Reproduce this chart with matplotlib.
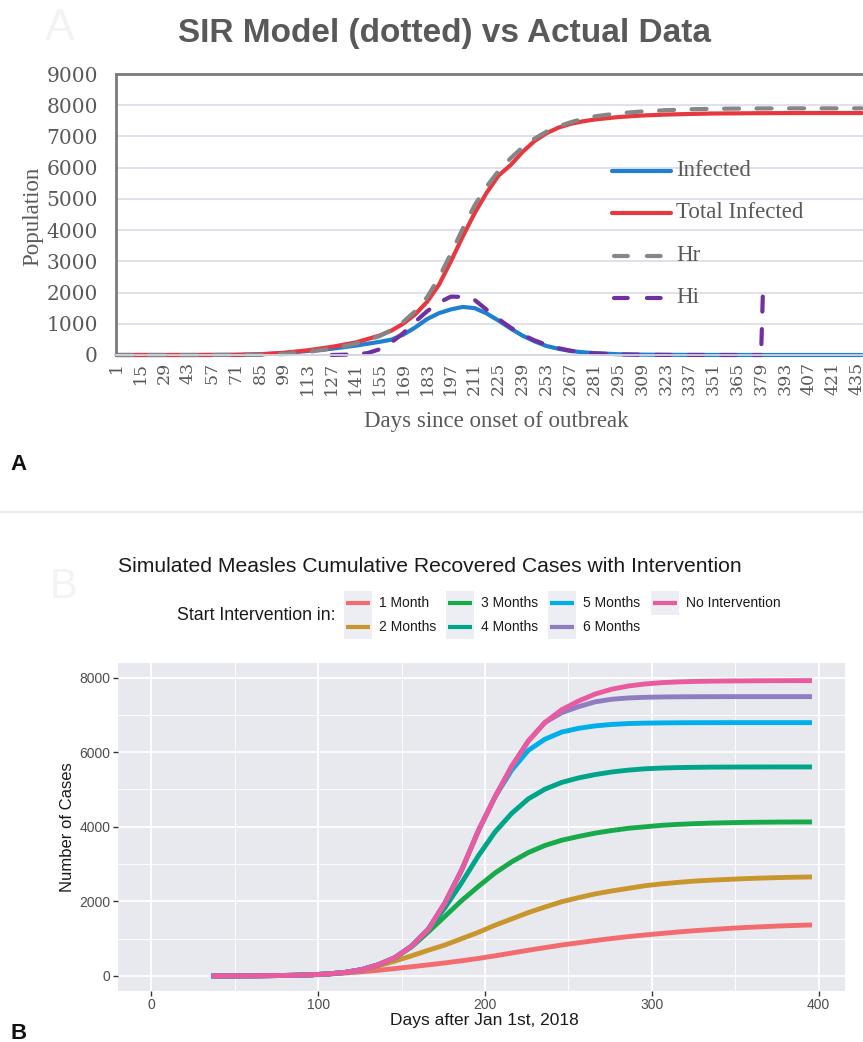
import matplotlib
matplotlib.use("Agg")
import matplotlib.pyplot as plt
from matplotlib.lines import Line2D
from matplotlib.patches import Rectangle

W, H = 863, 1042

# ---------------- Panel A data ----------------
a_days = [1, 15, 29, 43, 57, 71, 85, 99, 113, 127, 141, 155,
          162, 169, 176, 183, 190, 197, 204, 211, 218, 225, 232, 239, 246, 253, 260, 267, 274, 281,
          295, 309, 323, 337, 351, 365, 379, 393, 407, 421, 438]
a_infected = [0, 0, 0, 0, 2, 5, 20, 60, 130, 200, 300, 420,
              490, 650, 880, 1150, 1340, 1460, 1540, 1500, 1330, 1100, 850, 620, 440, 290, 200, 130, 90, 60,
              25, 12, 6, 3, 2, 1, 0, 0, 0, 0, 0]
a_total = [0, 0, 0, 0, 2, 5, 25, 70, 150, 260, 400, 620,
           780, 1000, 1300, 1700, 2250, 3000, 3800, 4550, 5200, 5750, 6080, 6500, 6850, 7100, 7280, 7400, 7480, 7540,
           7620, 7670, 7700, 7720, 7735, 7740, 7745, 7748, 7750, 7750, 7750]
a_hr = [0, 0, 0, 0, 0, 0, 5, 30, 100, 200, 360, 600,
        800, 1060, 1400, 1850, 2480, 3250, 4050, 4800, 5400, 5900, 6300, 6650, 6930, 7150, 7320, 7450, 7560, 7640,
        7740, 7800, 7840, 7870, 7885, 7893, 7897, 7899, 7900, 7900, 7900]
hi_days = [127, 141, 148, 155, 162, 169, 176, 183, 190, 197, 204, 211, 218, 225, 232, 239,
           246, 253, 260, 267, 274, 281, 295, 309, 323, 337, 351, 365, 379, 380]
hi_vals = [0, 20, 60, 180, 400, 700, 1060, 1400, 1680, 1870, 1860, 1760, 1450, 1150, 880, 650,
           470, 330, 220, 140, 90, 55, 20, 8, 3, 1, 0, 0, 0, 1870]
a_xticks = [1, 15, 29, 43, 57, 71, 85, 99, 113, 127, 141, 155, 169, 183, 197, 211, 225, 239,
            253, 267, 281, 295, 309, 323, 337, 351, 365, 379, 393, 407, 421, 435]
a_yticks = [0, 1000, 2000, 3000, 4000, 5000, 6000, 7000, 8000, 9000]
a_labels = ["Infected", "Total Infected", "Hr", "Hi"]

# ---------------- Panel B data ----------------
b_days = [36, 46, 56, 66, 76, 86, 96, 106, 116, 126, 136, 146, 156, 166, 176, 186, 196, 206, 216,
          226, 236, 246, 256, 266, 276, 286, 296, 306, 316, 326, 336, 346, 356, 366, 376, 386, 396]
b_m1 = [0, 1, 3, 6, 11, 19, 32, 50, 78, 112, 152, 198, 248, 298, 350, 408, 470, 540, 615,
        690, 760, 830, 890, 950, 1005, 1055, 1100, 1140, 1180, 1215, 1245, 1275, 1300, 1320, 1340, 1355, 1368]
b_m2 = [0, 1, 3, 6, 11, 19, 32, 55, 92, 160, 270, 400, 540, 690, 830, 1000, 1170, 1360, 1530,
        1700, 1850, 1990, 2100, 2200, 2280, 2350, 2420, 2470, 2510, 2545, 2570, 2590, 2610, 2625, 2638, 2648, 2655]
b_m3 = [0, 1, 3, 6, 11, 19, 32, 55, 95, 170, 300, 490, 780, 1180, 1600, 2020, 2400, 2760, 3060,
        3310, 3500, 3640, 3740, 3830, 3900, 3960, 4000, 4040, 4065, 4085, 4100, 4110, 4118, 4123, 4127, 4129, 4130]
b_m4 = [0, 1, 3, 6, 11, 19, 32, 55, 95, 170, 300, 490, 800, 1250, 1830, 2500, 3220, 3860, 4360,
        4750, 5010, 5190, 5310, 5400, 5470, 5520, 5555, 5575, 5588, 5595, 5600, 5602, 5603, 5604, 5605, 5605, 5605]
b_m5 = [0, 1, 3, 6, 11, 19, 32, 55, 95, 170, 300, 490, 800, 1250, 1960, 2840, 3890, 4800, 5520,
        6050, 6350, 6540, 6640, 6705, 6745, 6768, 6780, 6786, 6789, 6791, 6792, 6793, 6793, 6793, 6793, 6793, 6793]
b_m6 = [0, 1, 3, 6, 11, 19, 32, 55, 95, 170, 300, 490, 800, 1250, 1960, 2840, 3890, 4800, 5620,
        6300, 6800, 7060, 7220, 7350, 7420, 7455, 7472, 7481, 7486, 7488, 7489, 7490, 7490, 7490, 7490, 7490, 7490]
b_noi = [0, 1, 3, 6, 11, 19, 32, 55, 95, 170, 300, 490, 800, 1250, 1960, 2840, 3890, 4800, 5620,
         6300, 6800, 7140, 7370, 7560, 7690, 7775, 7830, 7865, 7885, 7898, 7905, 7910, 7913, 7916, 7918, 7919, 7920]
b_labels = ["1 Month", "2 Months", "3 Months", "4 Months", "5 Months", "6 Months", "No Intervention"]
b_series = [b_m1, b_m2, b_m3, b_m4, b_m5, b_m6, b_noi]
b_colors = ["#F26B6F", "#C9962E", "#18A94B", "#00A489", "#00AEEA", "#8F7DC2", "#E95B9E"]
b_xticks = [0, 100, 200, 300, 400]
b_xminor = [50, 150, 250, 350]
b_yticks = [0, 2000, 4000, 6000, 8000]
b_yminor = [1000, 3000, 5000, 7000]


def fx(x):
    return x / W


def fy(y):
    return 1 - y / H


fig = plt.figure(figsize=(W / 100, H / 100), dpi=100)
fig.patch.set_facecolor("white")

SERIF_NUM = ["DejaVu Serif"]
SERIF_TXT = ["Liberation Serif", "DejaVu Serif"]
SANS = ["Liberation Sans", "DejaVu Sans"]
GRAY_TXT = "#595959"

# ================= Panel A =================
axA = fig.add_axes([fx(116), fy(355), (W - 116) / W, 281 / H])
axA.set_xlim(0.5, 438.8)
axA.set_ylim(0, 9000)
axA.set_yticks(a_yticks)
axA.set_xticks(a_xticks)
axA.set_xticklabels([str(t) for t in a_xticks], rotation=90, family=SERIF_NUM,
                    fontsize=12.5, color=GRAY_TXT)
axA.set_yticklabels([str(t) for t in a_yticks], family=SERIF_NUM, fontsize=14.5, color=GRAY_TXT)
axA.tick_params(axis="both", length=0)
axA.tick_params(axis="x", pad=5)
axA.tick_params(axis="y", pad=13)
axA.yaxis.grid(True, color="#d9dde6", lw=1.2)
axA.set_axisbelow(True)
axA.spines["right"].set_visible(False)
axA.spines["left"].set_color("#7a7a7a")
axA.spines["left"].set_linewidth(2)
axA.spines["top"].set_color("#7a7a7a")
axA.spines["top"].set_linewidth(2)
axA.spines["bottom"].set_color("#d0d6e2")
axA.spines["bottom"].set_linewidth(1.3)

c_inf, c_tot, c_hr, c_hi = "#1F80D2", "#E8383F", "#868686", "#7030A0"
LW_A = 3.0
DASH = (3.6, 4.2)
axA.plot(a_days, a_infected, color=c_inf, lw=LW_A, solid_joinstyle="round",
         solid_capstyle="round", clip_on=False)
axA.plot(a_days, a_total, color=c_tot, lw=LW_A, solid_joinstyle="round",
         solid_capstyle="round", clip_on=False)
axA.plot(a_days, a_hr, color=c_hr, lw=LW_A, dashes=DASH, dash_capstyle="round",
         dash_joinstyle="round", clip_on=False)
# Hi series: main body, then its final jump (drawn top-down so the dash phase matches)
axA.plot(hi_days[:-1], hi_vals[:-1], color=c_hi, lw=LW_A, dashes=DASH, dash_capstyle="round",
         dash_joinstyle="round", clip_on=False)
axA.plot(hi_days[-1:-3:-1], hi_vals[-1:-3:-1], color=c_hi, lw=LW_A, dashes=DASH,
         dash_capstyle="round", clip_on=False)

# legend A (manual)
leg_y = [171, 213, 256, 298]
leg_c = [c_inf, c_tot, c_hr, c_hi]
for i, (lab, col, yy) in enumerate(zip(a_labels, leg_c, leg_y)):
    if i < 2:
        ln = Line2D([fx(612), fx(671)], [fy(yy), fy(yy)], transform=fig.transFigure,
                    color=col, lw=LW_A, solid_capstyle="round")
    else:
        ln = Line2D([fx(614), fx(661)], [fy(yy), fy(yy)], transform=fig.transFigure,
                    color=col, lw=LW_A, dashes=(3.3, 4.6), dash_capstyle="round")
    fig.add_artist(ln)
    fig.text(fx(676), fy(yy), lab, family=SERIF_TXT, fontsize=16.5, color=GRAY_TXT,
             ha="left", va="center")

fig.text(fx(444.5), fy(42), "SIR Model (dotted) vs Actual Data", family=SANS,
         fontweight="bold", fontsize=24, color=GRAY_TXT, ha="center", va="baseline")
fig.text(fx(33), fy(216), "Population", family=SERIF_TXT, fontsize=16.5, color=GRAY_TXT,
         rotation=90, ha="center", va="center")
fig.text(fx(496), fy(422), "Days since onset of outbreak", family=SERIF_TXT, fontsize=16.5,
         color=GRAY_TXT, ha="center", va="center")
# faint ghost panel letters
fig.text(fx(45), fy(40), "A", family=SANS, fontsize=32, color="#f3f3f3", ha="left", va="baseline")
fig.text(fx(50), fy(598), "B", family=SANS, fontsize=30, color="#f3f3f3", ha="left", va="baseline")
# panel letters
fig.text(fx(10), fy(470), "A", family=SANS, fontweight="bold", fontsize=16, color="#111111",
         ha="left", va="baseline")
fig.text(fx(10), fy(1039), "B", family=SANS, fontweight="bold", fontsize=16, color="#111111",
         ha="left", va="baseline")
# separator line
fig.add_artist(Line2D([0, 1], [fy(512), fy(512)], transform=fig.transFigure, color="#e6e6e6", lw=1.2))

# ================= Panel B =================
axB = fig.add_axes([fx(118.3), fy(990.7), 726.7 / W, 328 / H])
axB.set_facecolor("#E7E9EF")
axB.set_xlim(-19.8, 415.8)
axB.set_ylim(-395, 8400)
axB.set_xticks(b_xticks)
axB.set_xticks(b_xminor, minor=True)
axB.set_yticks(b_yticks)
axB.set_yticks(b_yminor, minor=True)
axB.set_xticklabels([str(t) for t in b_xticks], family=SANS, fontsize=10, color="#4D4D4D")
axB.set_yticklabels([str(t) for t in b_yticks], family=SANS, fontsize=10, color="#4D4D4D")
axB.tick_params(axis="both", which="major", length=3.5, width=1, color="#333333", pad=2)
axB.tick_params(axis="both", which="minor", length=0)
axB.grid(True, which="major", color="white", lw=1.3)
axB.grid(True, which="minor", color="white", lw=0.65)
axB.set_axisbelow(True)
for s in axB.spines.values():
    s.set_visible(False)

for vals, col in zip(b_series, b_colors):
    axB.plot(b_days, vals, color=col, lw=3.5, solid_capstyle="butt", solid_joinstyle="round")

fig.text(fx(118), fy(566), "Simulated Measles Cumulative Recovered Cases with Intervention",
         family=SANS, fontsize=15.2, color="#1a1a1a", ha="left", va="center")
fig.text(fx(484), fy(1021), "Days after Jan 1st, 2018", family=SANS, fontsize=12.5,
         color="#1a1a1a", ha="center", va="center")
fig.text(fx(68), fy(827), "Number of Cases", family=SANS, fontsize=12, color="#1a1a1a",
         rotation=90, ha="center", va="center")

# legend B (manual, ggplot style)
fig.text(fx(177), fy(616), "Start Intervention in:", family=SANS, fontsize=12.8, color="#1a1a1a",
         ha="left", va="center")
col_left = [344, 446, 548, 651]
row_top = [591, 615]
key_w, key_h = 28, 24
for idx, (lab, col) in enumerate(zip(b_labels, b_colors)):
    ci, ri = idx // 2, idx % 2
    x0 = col_left[ci]
    y0 = row_top[ri]
    fig.add_artist(Rectangle((fx(x0), fy(y0 + key_h)), key_w / W, key_h / H,
                             transform=fig.transFigure, facecolor="#ECEEF3", edgecolor="none"))
    yc = y0 + key_h / 2
    fig.add_artist(Line2D([fx(x0 + 2), fx(x0 + key_w - 2)], [fy(yc), fy(yc)],
                          transform=fig.transFigure, color=col, lw=3.0, solid_capstyle="butt"))
    fig.text(fx(x0 + key_w + 7), fy(yc), lab, family=SANS, fontsize=10, color="#1a1a1a",
             ha="left", va="center")

fig.savefig("out.png", dpi=100, facecolor="white")
